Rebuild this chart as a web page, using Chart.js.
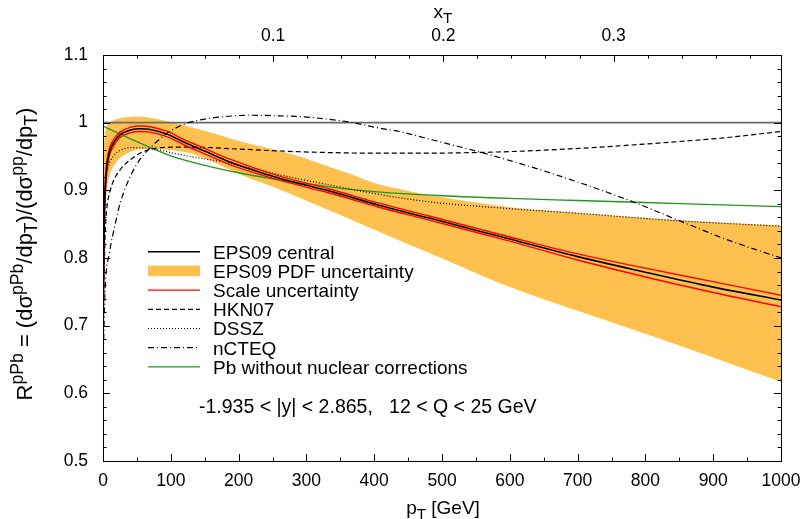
<!DOCTYPE html>
<html>
<head>
<meta charset="utf-8">
<title>R pPb ratio</title>
<script src="https://cdn.jsdelivr.net/npm/chart.js@4.4.1/dist/chart.umd.min.js"></script>
<style>
  html, body { margin: 0; padding: 0; background: #fff; }
  #wrap { width: 810px; height: 519px; }
</style>
</head>
<body>
<div id="wrap"><canvas id="ratio" width="810" height="519"></canvas></div>
<script>
// ---- data: pT [GeV] and R^pPb for each curve ----
const centralPt = [0.5, 2, 4, 8, 15, 25, 40, 55, 70, 95, 120, 150, 187, 260, 334, 407, 481, 554, 600, 700, 800, 900, 1000];
const centralR  = [0.74, 0.86, 0.915, 0.95, 0.969, 0.982, 0.989, 0.991, 0.990, 0.983, 0.971, 0.958, 0.942, 0.918, 0.899, 0.878, 0.859, 0.840, 0.828, 0.802, 0.779, 0.757, 0.738];
const scaleHiR  = [0.78, 0.88, 0.925, 0.956, 0.974, 0.986, 0.993, 0.995, 0.994, 0.987, 0.975, 0.962, 0.946, 0.921, 0.902, 0.881, 0.862, 0.843, 0.831, 0.806, 0.785, 0.765, 0.745];
const scaleLoR  = [0.70, 0.84, 0.905, 0.944, 0.964, 0.978, 0.985, 0.987, 0.986, 0.979, 0.967, 0.954, 0.938, 0.915, 0.896, 0.875, 0.856, 0.837, 0.825, 0.797, 0.772, 0.749, 0.728];

const bandPt = [0.5, 2, 5, 10, 20, 35, 50, 70, 95, 128, 160, 190, 216, 246, 290, 330, 363, 400, 437, 480, 550, 600, 700, 800, 900, 1000];
const bandHi = [0.95, 0.975, 0.993, 1.0, 1.005, 1.008, 1.009, 1.007, 1.002, 0.994, 0.985, 0.976, 0.969, 0.962, 0.950, 0.936, 0.925, 0.911, 0.902, 0.893, 0.882, 0.875, 0.867, 0.859, 0.853, 0.848];
const bandLo = [0.76, 0.84, 0.895, 0.922, 0.942, 0.954, 0.960, 0.962, 0.960, 0.955, 0.943, 0.929, 0.918, 0.907, 0.889, 0.872, 0.858, 0.842, 0.826, 0.808, 0.778, 0.757, 0.722, 0.688, 0.653, 0.617];

const hknPt = [0.5, 3, 5.4, 10, 15, 25, 40, 59, 84, 128, 200, 290, 400, 480, 554, 620, 701, 780, 848, 920, 1000];
const hknR  = [0.72, 0.83, 0.871, 0.897, 0.913, 0.930, 0.945, 0.957, 0.963, 0.964, 0.961, 0.957, 0.955, 0.955, 0.956, 0.958, 0.962, 0.967, 0.972, 0.978, 0.987];

const dsszPt = [0.5, 1.5, 3, 8, 15, 30, 45, 69, 113, 187, 260, 334, 407, 481, 599, 701, 848, 1000];
const dsszR  = [0.80, 0.87, 0.905, 0.935, 0.950, 0.961, 0.963, 0.962, 0.953, 0.940, 0.923, 0.908, 0.894, 0.883, 0.873, 0.866, 0.855, 0.847];

const ncteqPt = [0.5, 3, 10, 18, 25, 40, 54, 74, 94, 118, 143, 180, 216, 260, 290, 363, 407, 437, 480, 554, 630, 701, 779, 848, 918, 1000];
const ncteqR  = [0.66, 0.75, 0.81, 0.85, 0.88, 0.92, 0.945, 0.967, 0.984, 0.997, 1.004, 1.009, 1.011, 1.010, 1.009, 1.001, 0.992, 0.987, 0.976, 0.957, 0.935, 0.912, 0.884, 0.856, 0.828, 0.800];

const pbPt = [0, 50, 100, 150, 200, 250, 300, 350, 400, 500, 600, 700, 800, 900, 1000];
const pbR  = [0.995, 0.972, 0.951, 0.937, 0.926, 0.917, 0.910, 0.903, 0.898, 0.892, 0.888, 0.885, 0.882, 0.879, 0.876];

const unityPt = [0, 1000];
const unityR  = [1, 1];

// ---- axes ----
const xTicks  = [0, 100, 200, 300, 400, 500, 600, 700, 800, 900, 1000];
const yTicks  = [0.5, 0.6, 0.7, 0.8, 0.9, 1.0, 1.1];
const xTTicks = [0.1, 0.2, 0.3];
const SQRT_S = 5020; // GeV, x_T = 2 pT / sqrt(s)

const FONT = '"Liberation Sans", Arial, Helvetica, sans-serif';
const ORANGE = '#fec04e';
const GREEN = '#1f9a1f';
const MAJOR = 7, MINOR = 3.5;

function pts(xs, ys) {
    return xs.map((x, i) => ({ x: x, y: ys[i] }));
}

function curve(label, xs, ys, color, width, dash) {
    return {
        label: label,
        data: pts(xs, ys),
        borderColor: color,
        borderWidth: width,
        borderDash: dash || [],
        pointRadius: 0,
        cubicInterpolationMode: 'monotone',
        fill: false
    };
}

const datasets = [
    curve('EPS09 central', centralPt, centralR, '#000000', 1.6),
    curve('Scale uncertainty', centralPt, scaleHiR, '#ff0000', 1.4),
    curve('Scale uncertainty (low)', centralPt, scaleLoR, '#ff0000', 1.4),
    curve('HKN07', hknPt, hknR, '#000000', 1.2, [5, 3]),
    curve('DSSZ', dsszPt, dsszR, '#000000', 1.2, [1, 2]),
    curve('nCTEQ', ncteqPt, ncteqR, '#000000', 1.2, [6, 3, 1, 3]),
    curve('Pb without nuclear corrections', pbPt, pbR, GREEN, 1.3),
    curve('unity', unityPt, unityR, '#6a6a6a', 1.8),
    Object.assign(curve('EPS09 PDF uncertainty', bandPt, bandHi, ORANGE, 0), { fill: '+1', backgroundColor: ORANGE }),
    curve('EPS09 PDF uncertainty (low)', bandPt, bandLo, ORANGE, 0)
];

// legend rows: [text, dataset index, kind]
const legendRows = [
    ['EPS09 central', 0, 'line'],
    ['EPS09 PDF uncertainty', 8, 'box'],
    ['Scale uncertainty', 1, 'line'],
    ['HKN07', 3, 'line'],
    ['DSSZ', 4, 'line'],
    ['nCTEQ', 5, 'line'],
    ['Pb without nuclear corrections', 6, 'line']
];

// draw text made of pieces, some raised or lowered (sup/sub)
function richWidth(ctx, parts, size) {
    let w = 0;
    parts.forEach(p => {
        const s = p.s ? size * 0.8 : size;
        ctx.font = s + 'px ' + FONT;
        w += ctx.measureText(p.t).width;
    });
    return w;
}

function drawRich(ctx, parts, x, y, size) {
    let cx = x - richWidth(ctx, parts, size) / 2;
    parts.forEach(p => {
        const s = p.s ? size * 0.8 : size;
        const dy = p.s === 'sup' ? -0.42 * size : (p.s === 'sub' ? 0.24 * size : 0);
        ctx.font = s + 'px ' + FONT;
        ctx.fillText(p.t, cx, y + dy);
        cx += ctx.measureText(p.t).width;
    });
}

const decorations = {
    id: 'decorations',
    afterDatasetsDraw(chart) {
        const { ctx, chartArea: a, scales } = chart;
        ctx.save();

        // frame
        ctx.strokeStyle = '#000';
        ctx.lineWidth = 1;
        ctx.strokeRect(a.left + 0.5, a.top + 0.5, a.right - a.left, a.bottom - a.top);

        // inward ticks
        ctx.beginPath();
        for (let v = 0; v <= 1000; v += 50) {
            const px = Math.round(scales.x.getPixelForValue(v)) + 0.5;
            const len = v % 100 === 0 ? MAJOR : MINOR;
            ctx.moveTo(px, a.bottom);
            ctx.lineTo(px, a.bottom - len);
        }
        for (let k = 0; k <= 30; k++) {
            const py = Math.round(scales.y.getPixelForValue(0.5 + k * 0.02)) + 0.5;
            const len = k % 5 === 0 ? MAJOR : MINOR;
            ctx.moveTo(a.left, py);
            ctx.lineTo(a.left + len, py);
            ctx.moveTo(a.right, py);
            ctx.lineTo(a.right - len, py);
        }
        for (let k = 1; k * 0.02 <= scales.x2.max; k++) {
            const px = Math.round(scales.x2.getPixelForValue(k * 0.02)) + 0.5;
            const len = k % 5 === 0 ? MAJOR : MINOR;
            ctx.moveTo(px, a.top);
            ctx.lineTo(px, a.top + len);
        }
        ctx.stroke();

        // legend
        ctx.fillStyle = '#000';
        ctx.textBaseline = 'alphabetic';
        ctx.textAlign = 'left';
        legendRows.forEach((row, i) => {
            const yc = 251.7 + i * 19.2;
            const ds = chart.data.datasets[row[1]];
            if (row[2] === 'box') {
                ctx.fillStyle = ds.backgroundColor;
                ctx.fillRect(148, yc - 5.3, 52, 10.6);
            } else {
                ctx.beginPath();
                ctx.strokeStyle = ds.borderColor;
                ctx.lineWidth = ds.borderWidth;
                ctx.setLineDash(ds.borderDash);
                ctx.moveTo(148, yc);
                ctx.lineTo(200, yc);
                ctx.stroke();
                ctx.setLineDash([]);
            }
            ctx.fillStyle = '#000';
            ctx.font = '19px ' + FONT;
            ctx.fillText(row[0], 213, yc + 6.8);
        });

        // kinematic cuts
        ctx.font = '19.5px ' + FONT;
        ctx.fillText('-1.935 < |y| < 2.865,   12 < Q < 25 GeV', 199, 412.8);

        // axis titles
        drawRich(ctx, [{ t: 'p' }, { t: 'T', s: 'sub' }, { t: ' [GeV]' }], 443, 514, 19);
        drawRich(ctx, [{ t: 'x' }, { t: 'T', s: 'sub' }], 443, 18, 19);

        ctx.translate(32, 254);
        ctx.rotate(-Math.PI / 2);
        drawRich(ctx, [
            { t: 'R' }, { t: 'pPb', s: 'sup' }, { t: ' = (d\u03c3' }, { t: 'pPb', s: 'sup' },
            { t: '/dp' }, { t: 'T', s: 'sub' }, { t: ')/(d\u03c3' }, { t: 'pp', s: 'sup' },
            { t: '/dp' }, { t: 'T', s: 'sub' }, { t: ')' }
        ], 0, 0, 22);

        ctx.restore();
    }
};

const hiddenGrid = { display: false, drawTicks: false };

new Chart(document.getElementById('ratio'), {
    type: 'line',
    data: { datasets: datasets },
    options: {
        responsive: false,
        animation: false,
        events: [],
        layout: { padding: { left: 0, right: 27, top: 0, bottom: 0 } },
        plugins: { legend: { display: false }, tooltip: { enabled: false } },
        scales: {
            x: {
                type: 'linear',
                position: 'bottom',
                min: 0,
                max: 1000,
                grid: hiddenGrid,
                border: { display: false },
                afterBuildTicks: s => { s.ticks = xTicks.map(v => ({ value: v })); },
                afterFit: s => { s.height = 58; },
                ticks: {
                    color: '#000',
                    padding: 9.5,
                    maxRotation: 0,
                    font: { family: FONT, size: 17.5 },
                    callback: v => String(v)
                }
            },
            x2: {
                type: 'linear',
                position: 'top',
                min: 0,
                max: 2 * 1000 / SQRT_S,
                grid: hiddenGrid,
                border: { display: false },
                afterBuildTicks: s => { s.ticks = xTTicks.map(v => ({ value: v })); },
                afterFit: s => { s.height = 55; },
                ticks: {
                    color: '#000',
                    padding: 8.5,
                    maxRotation: 0,
                    font: { family: FONT, size: 17.5 },
                    callback: v => v.toFixed(1)
                }
            },
            y: {
                type: 'linear',
                min: 0.5,
                max: 1.1,
                grid: hiddenGrid,
                border: { display: false },
                afterBuildTicks: s => { s.ticks = yTicks.map(v => ({ value: v })); },
                afterFit: s => { s.width = 103; },
                ticks: {
                    color: '#000',
                    padding: 15,
                    font: { family: FONT, size: 17.5 },
                    callback: v => String(+v.toFixed(1))
                }
            }
        }
    },
    plugins: [decorations]
});
</script>
</body>
</html>
